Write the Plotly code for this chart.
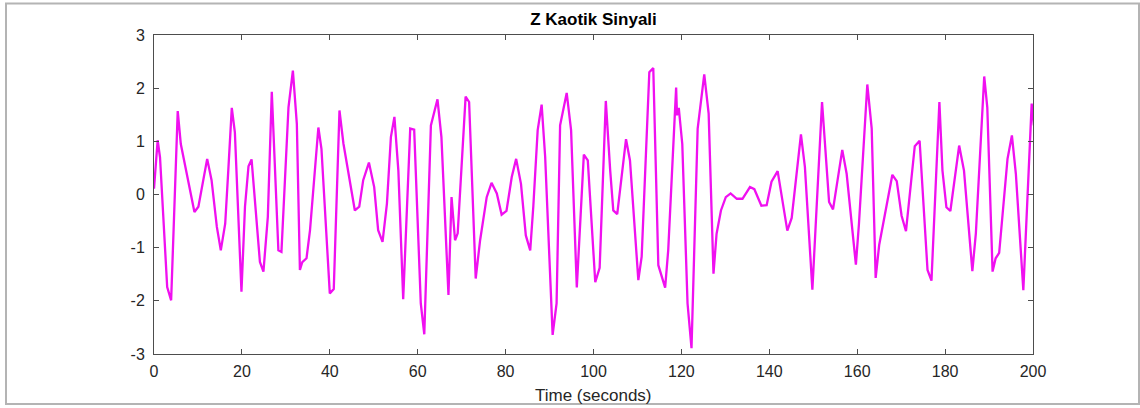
import plotly.graph_objects as go

# Z state of the chaotic system, sampled at the solver's (uneven) time steps
time_s = [
    0.0, 0.83, 1.37, 3.0, 3.9, 5.4, 6.1, 9.2, 10.1, 11.2, 12.1, 13.1, 14.3, 15.2,
    16.2, 16.9, 17.7, 18.4, 19.9, 20.7, 21.5, 22.2, 24.1, 24.9, 25.9, 26.8, 28.3,
    29.0, 30.6, 31.6, 32.5, 33.2, 33.75, 34.7, 35.5, 37.4, 38.1, 40.0, 40.9, 42.2,
    43.1, 45.7, 46.7, 47.6, 48.9, 50.1, 51.0, 52.0, 53.0, 53.9, 54.7, 55.6, 56.7,
    58.3, 59.2, 60.7, 61.5, 63.0, 64.5, 65.4, 67.0, 67.7, 68.5, 69.1, 70.9, 71.7,
    73.2, 74.2, 75.7, 76.8, 78.0, 79.1, 80.2, 81.4, 82.4, 83.5, 84.6, 85.6, 86.3,
    87.3, 88.2, 89.0, 90.7, 91.6, 92.4, 93.9, 94.9, 96.2, 97.8, 98.7, 100.4, 101.4,
    102.8, 103.8, 104.5, 105.4, 107.4, 108.3, 110.2, 110.96, 112.7, 113.6, 114.75,
    116.3, 117.0, 118.8, 119.0, 119.4, 120.2, 121.4, 122.3, 123.7, 125.2, 126.2,
    127.3, 128.0, 129.0, 130.1, 131.2, 132.6, 133.9, 135.6, 136.6, 138.2, 139.4,
    140.5, 141.9, 144.1, 145.1, 147.2, 148.1, 149.8, 152.0, 153.6, 154.5, 156.6,
    157.6, 159.7, 160.4, 162.3, 163.3, 164.2, 165.0, 168.0, 169.0, 170.1, 171.1,
    173.1, 174.2, 176.0, 176.9, 178.7, 179.4, 180.3, 181.2, 183.2, 184.3, 186.2,
    187.0, 188.9, 189.6, 190.8, 191.5, 192.3, 194.2, 195.2, 196.1, 197.8, 199.7,
    200.2,
]
z_values = [
    0.11, 1.02, 0.70, -1.74, -1.99, 1.57, 0.95, -0.33, -0.23, 0.27, 0.67, 0.27,
    -0.61, -1.05, -0.55, 0.45, 1.63, 1.17, -1.83, -0.23, 0.53, 0.66, -1.27, -1.45,
    -0.42, 1.93, -1.05, -1.08, 1.64, 2.33, 1.33, -1.42, -1.27, -1.20, -0.67, 1.26,
    0.86, -1.86, -1.78, 1.58, 0.96, -0.30, -0.23, 0.27, 0.60, 0.14, -0.67, -0.89,
    -0.17, 1.08, 1.46, 0.45, -1.97, 1.24, 1.22, -2.05, -2.63, 1.30, 1.79, 1.08,
    -1.89, -0.05, -0.86, -0.73, 1.84, 1.74, -1.58, -0.86, -0.05, 0.22, 0.02, -0.38,
    -0.31, 0.33, 0.67, 0.20, -0.77, -1.05, -0.23, 1.21, 1.69, 0.71, -2.64, -2.05,
    1.30, 1.91, 1.21, -1.75, 0.75, 0.64, -1.65, -1.38, 1.76, 0.45, -0.30, -0.37,
    1.04, 0.64, -1.61, -1.17, 2.30, 2.38, -1.33, -1.75, -1.05, 2.01, 1.49, 1.63,
    0.95, -2.05, -2.89, 1.24, 2.26, 1.52, -1.49, -0.74, -0.30, -0.05, 0.02, -0.08,
    -0.08, 0.14, 0.10, -0.21, -0.20, 0.24, 0.44, -0.68, -0.44, 1.13, 0.52, -1.79,
    1.74, -0.14, -0.28, 0.84, 0.39, -1.32, -0.55, 2.07, 1.24, -1.57, -0.95, 0.37,
    0.25, -0.40, -0.69, 0.91, 1.01, -1.42, -1.62, 1.74, 0.45, -0.24, -0.31, 0.92,
    0.45, -1.44, -0.73, 2.22, 1.64, -1.45, -1.20, -1.10, 0.67, 1.11, 0.39, -1.80,
    1.71, 1.30,
]

x_ticks = [0, 20, 40, 60, 80, 100, 120, 140, 160, 180, 200]
y_ticks = [-3, -2, -1, 0, 1, 2, 3]

FONT = "Liberation Sans, Arial, sans-serif"

# plot-area geometry in pixels
PLOT_H = 319.5

fig = go.Figure()
fig.add_trace(go.Scatter(
    x=time_s, y=z_values, mode="lines",
    line=dict(color="#f010f0", width=2.3),
    hoverinfo="skip", showlegend=False,
))

axis_style = dict(
    showline=True, linecolor="#4d4d4d", linewidth=1, mirror="ticks",
    ticks="inside", ticklen=5, tickcolor="#4d4d4d", tickwidth=1,
    showgrid=False, zeroline=False, automargin=False,
    tickfont=dict(family=FONT, size=16, color="#262626"),
)

fig.update_xaxes(
    range=[0, 200], tickvals=x_ticks, ticktext=[str(v) for v in x_ticks],
    ticklabelstandoff=3,
    **axis_style,
)
fig.update_yaxes(
    range=[-3, 3], tickvals=y_ticks, ticktext=[str(v) for v in y_ticks],
    ticklabelstandoff=5,
    **axis_style,
)

fig.update_layout(
    width=1140, height=408,
    margin=dict(l=154, r=107, t=35, b=54),
    paper_bgcolor="white", plot_bgcolor="white",
    title=dict(
        text="<b>Z Kaotik Sinyali</b>",
        x=0.5, xref="paper", xanchor="center",
        y=1 - 19 / 408, yanchor="middle",
        font=dict(family=FONT, size=17, color="#000000"),
    ),
    annotations=[dict(
        text="Time (seconds)", xref="paper", yref="paper",
        x=0.5, y=-42 / PLOT_H, xanchor="center", yanchor="middle",
        showarrow=False, font=dict(family=FONT, size=17, color="#262626"),
    )],
    shapes=[dict(
        type="rect", xref="paper", yref="paper",
        x0=(6 - 154) / 879, x1=(1139 - 154) / 879,
        y0=-50 / PLOT_H, y1=351 / PLOT_H,
        line=dict(color="#b4b4b4", width=2), fillcolor="rgba(0,0,0,0)",
        layer="below",
    )],
)

fig.write_html("out.html")
